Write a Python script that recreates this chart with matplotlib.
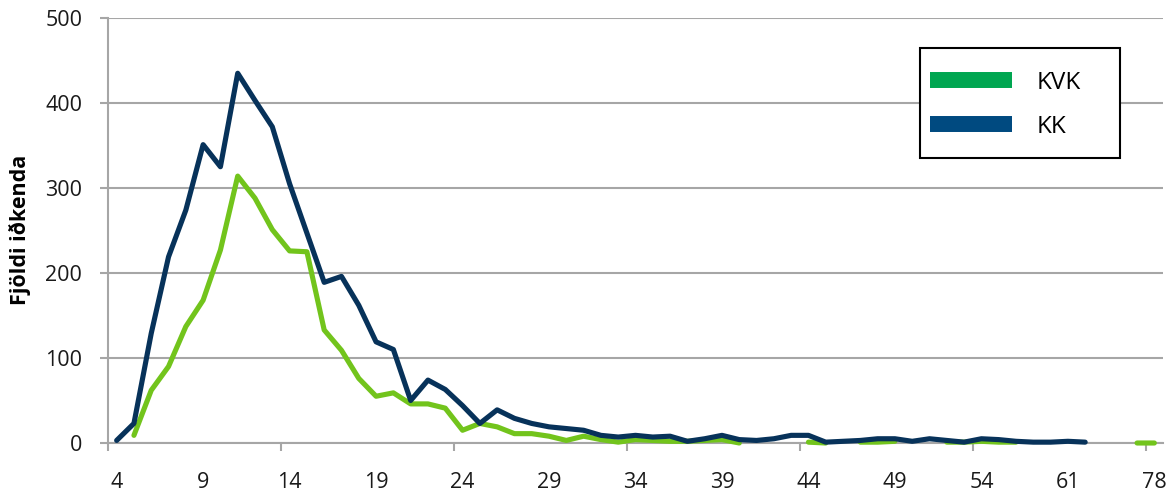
import numpy as np
import matplotlib; matplotlib.use("Agg")
import matplotlib.pyplot as plt
from matplotlib.lines import Line2D
from matplotlib.patches import Rectangle

plt.rcParams['font.family'] = ['Open Sans', 'DejaVu Sans']

nan = np.nan
# age categories (only every 5th is labelled on the axis)
ages = list(range(4, 55)) + [55, 56, 57, 59, 61] + [62, 63, 65, 70, 78]
kk = [3, 23, 129, 219, 274, 351, 325, 435, 403, 372,
      305, 247, 189, 196, 162, 119, 110, 50, 74, 63,
      44, 23, 39, 29, 23, 19, 17, 15, 9, 7,
      9, 7, 8, 2, 5, 9, 4, 3, 5, 9,
      9, 1, 2, 3, 5, 5, 2, 5, 3, 1,
      5, 4, 2, 1, 1, 2, 1, nan, nan, nan, nan]
kvk = [nan, 9, 62, 90, 137, 168, 227, 314, 288, 251,
       226, 225, 133, 109, 76, 55, 59, 46, 46, 41,
       15, 23, 19, 11, 11, 8, 3, 8, 4, 1,
       4, 3, 2, 2, 3, 4, 0, nan, nan, nan,
       1, 0, nan, 1, 1, 2, nan, nan, 1, 1,
       2, 1, 1, nan, nan, nan, nan, nan, nan, 0, 0]
series_names = ["KVK", "KK"]
line_colors = ["#72c41c", "#07325a"]
legend_colors = ["#00a651", "#004a80"]
ylabel = "Fjöldi iðkenda"

grid_c = "#a6a6a6"
x = np.arange(len(ages))

fig = plt.figure(figsize=(11.71, 4.91), dpi=100)
ax = fig.add_axes([108 / 1171, 1 - 443 / 491, 1055 / 1171, 425 / 491])

for vals, c in zip([kvk, kk], line_colors):
    ax.plot(x, vals, color=c, lw=3.7, solid_joinstyle="round",
            solid_capstyle="round", clip_on=False, zorder=3)

ax.set_xlim(-0.5, len(ages) - 0.5)
ax.set_ylim(0, 500)
ax.set_yticks(np.arange(0, 501, 100))
ax.yaxis.grid(True, color=grid_c, lw=1.5)
ax.set_axisbelow(True)
for s in ["top", "right"]:
    ax.spines[s].set_visible(False)
for s in ["left", "bottom"]:
    ax.spines[s].set_color(grid_c)
    ax.spines[s].set_linewidth(1.5)
ax.tick_params(axis="y", length=6, width=1.5, color=grid_c, pad=12.5,
               labelsize=15.5, labelcolor="#1a1a1a")

# boundary ticks every 10 categories, labels every 5 categories
ax.set_xticks(np.arange(-0.5, len(ages), 10))
ax.set_xticklabels([])
ax.tick_params(axis="x", which="major", length=6, width=1.5, color=grid_c)
ax.set_xticks(x[::5], minor=True)
ax.set_xticklabels([str(a) for a in ages[::5]], minor=True)
ax.tick_params(axis="x", which="minor", length=0, pad=21, labelsize=15.5,
               labelcolor="#1a1a1a")

fig.text(20 / 1171, 1 - 230 / 491, ylabel, rotation=90, ha="center", va="center",
         fontsize=15.5, fontweight="bold")

# legend: box drawn separately so its size matches the original
ax.add_patch(Rectangle(((920 - 108) / 1055, (443 - 158) / 425), 200 / 1055, 110 / 425,
                       transform=ax.transAxes, facecolor="white", edgecolor="black",
                       lw=1.5, zorder=4))
handles = [Line2D([], [], color=c, lw=11.5, solid_capstyle="butt") for c in legend_colors]
leg = ax.legend(handles, series_names, loc="upper left",
                bbox_to_anchor=((930 - 108) / 1055, (443 - 71) / 425),
                fontsize=17.5, handlelength=3.37, handletextpad=1.03,
                labelspacing=0.82, borderpad=0, frameon=False, borderaxespad=0)
leg.set_zorder(5)

fig.savefig("out.png", dpi=100)
